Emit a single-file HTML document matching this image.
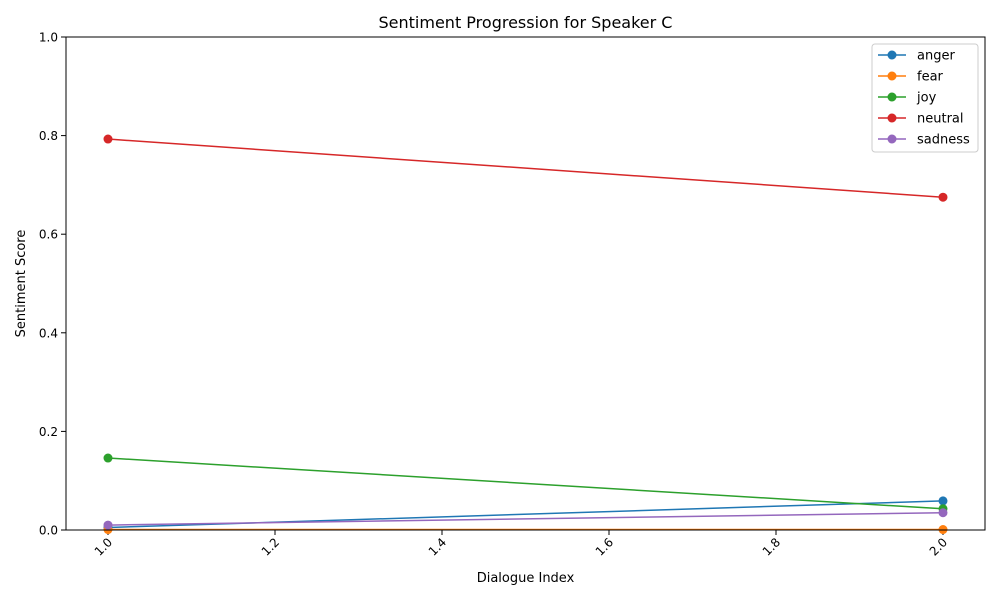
<!DOCTYPE html>
<html><head><meta charset="utf-8"><style>
body{margin:0;background:#fff;font-family:"Liberation Sans","DejaVu Sans",sans-serif;}
svg text{font-family:"DejaVu Sans","Liberation Sans",sans-serif;}
</style></head><body>
<svg id="chart" width="1000" height="600" xmlns="http://www.w3.org/2000/svg">
<rect width="1000" height="600" fill="#fff"/>
<text x="525.5" y="28" font-size="16" text-anchor="middle">Sentiment Progression for Speaker C</text>
<text x="525.5" y="582" font-size="13" text-anchor="middle">Dialogue Index</text>
<text x="0" y="0" font-size="13" text-anchor="middle" transform="translate(25,283.5) rotate(-90)">Sentiment Score</text>
<g id="axes"></g><g id="series"></g>
<rect x="66" y="37" width="919" height="493" fill="none" stroke="#000" stroke-width="1"/>
<g id="legend"></g>
</svg>
<script>
const xValues = [1.0, 2.0];
const seriesNames = ["anger","fear","joy","neutral","sadness"];
const anger = [0.005, 0.059];
const fear = [0.001, 0.001];
const joy = [0.146, 0.043];
const neutral = [0.793, 0.675];
const sadness = [0.010, 0.035];
const xTicks = ["1.0","1.2","1.4","1.6","1.8","2.0"];
const yTicks = ["0.0","0.2","0.4","0.6","0.8","1.0"];
const colors = ["#1f77b4","#ff7f0e","#2ca02c","#d62728","#9467bd"];
const allSeries = [anger, fear, joy, neutral, sadness];
const NS="http://www.w3.org/2000/svg";
const X0=66,X1=985,Y0=530,Y1=37;
const xs=v=>108+(v-1.0)*(943-108)/1.0;
const ys=v=>Y0-v*(Y0-Y1);
function mk(tag,attrs,parent){const e=document.createElementNS(NS,tag);for(const k in attrs)e.setAttribute(k,attrs[k]);parent.appendChild(e);return e;}
const axes=document.getElementById('axes');
xTicks.forEach(t=>{const x=xs(parseFloat(t));
 const l=mk('line',{x1:x,x2:x,y1:530,y2:535,stroke:'#000'},axes);
 
 
 const tx=mk('text',{x:0,y:0,'font-size':12,'text-anchor':'end',transform:`translate(${x+5},${543}) rotate(-45)`},axes);
 tx.textContent=t;
 
 
});
yTicks.forEach(t=>{const y=ys(parseFloat(t));
 const l=mk('line',{x1:61,x2:66,y1:y,y2:y,stroke:'#000'},axes);
 
 
 const tx=mk('text',{x:58,y:y+4.5,'font-size':12,'text-anchor':'end'},axes);
 tx.textContent=t;
 
 
});
const sg=document.getElementById('series');
allSeries.forEach((vals,i)=>{
 const g=mk('g',{},sg);
 
 
 const pts=vals.map((v,j)=>xs(xValues[j])+','+ys(v)).join(' ');
 const pl=mk('polyline',{points:pts,fill:'none',stroke:colors[i],'stroke-width':1.5},g);
 
 
 vals.forEach((v,j)=>{const c=mk('circle',{cx:xs(xValues[j]),cy:ys(v),r:4.5,fill:colors[i]},g);
  
  });
});
const lg=document.getElementById('legend');
const box=mk('rect',{x:872,y:44,width:106,height:108,rx:3,fill:'#fff',stroke:'#ccc','fill-opacity':0.8},lg);


seriesNames.forEach((n,i)=>{const y=55+i*21;
 const g=mk('g',{},lg);
 
 
 mk('line',{x1:878,x2:906,y1:y,y2:y,stroke:colors[i],'stroke-width':1.5},g);
 mk('circle',{cx:892,cy:y,r:4.5,fill:colors[i]},g);
 const t=mk('text',{x:917,y:y+4.5,'font-size':13},g);t.textContent=n;
});
</script>
</body></html>
